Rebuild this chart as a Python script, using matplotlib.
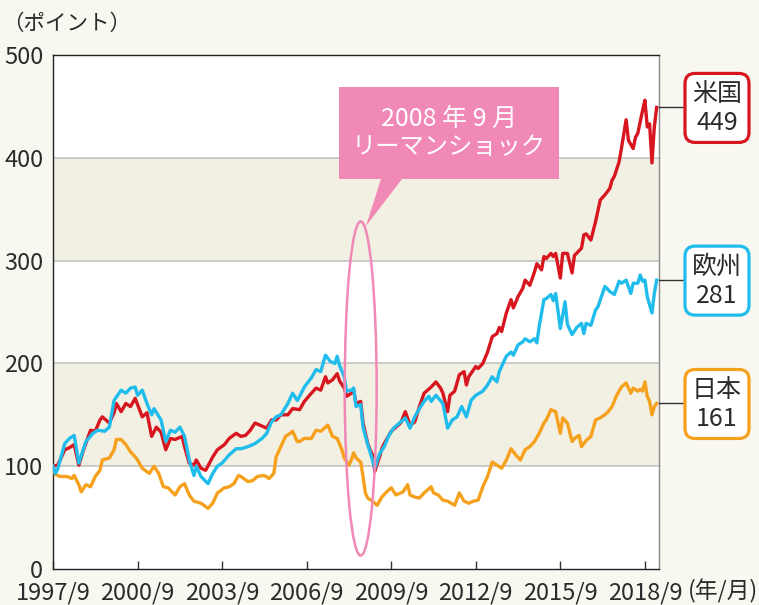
import matplotlib
matplotlib.use("Agg")
import matplotlib.pyplot as plt
from matplotlib.patches import Ellipse, FancyBboxPatch, Polygon
import numpy as np

plt.rcParams['font.family'] = ['Noto Sans CJK JP', 'DejaVu Sans']

# months counted from 1997/9 (index, 1997/9 = 100)
us_m = [0, 2, 5, 7, 9, 11, 13, 16, 18, 20, 21, 24, 26, 27, 29, 31, 33, 35, 36, 38,
        40, 42, 44, 46, 48, 50, 52, 55, 56, 58, 60, 61, 63, 65, 68, 70, 73, 75, 78, 80,
        82, 84, 86, 88, 91, 93, 95, 97, 100, 102, 105, 107, 110, 112, 114, 116, 117, 119, 121, 122,
        124, 125, 127, 128, 129, 131, 132, 134, 135, 136, 137, 139, 140, 141, 144, 146, 148, 150, 152, 154,
        156, 158, 161, 163, 165, 166, 168, 169, 171, 173, 175, 176, 177, 180, 181, 183, 185, 187, 189, 190,
        191, 193, 195, 196, 198, 200, 201, 203, 205, 206, 208, 209, 210, 212, 213, 214, 216, 217, 219, 221,
        222, 225, 226, 227, 229, 231, 233, 235, 237, 238, 239, 241, 242, 244, 245, 247, 248, 249, 251, 252,
        253, 254, 255, 256, 257]
us_v = [100, 101, 116, 118, 121, 101, 116, 135, 134, 145, 148, 142, 152, 161, 153, 161, 158, 166, 160, 148,
        152, 129, 138, 133, 116, 127, 126, 129, 119, 103, 101, 106, 98, 96, 109, 116, 121, 127, 132, 129,
        130, 135, 142, 140, 137, 145, 145, 150, 150, 156, 155, 163, 171, 176, 174, 187, 181, 184, 190, 183,
        176, 168, 171, 174, 161, 163, 142, 122, 116, 111, 95, 109, 117, 122, 134, 138, 142, 153, 140, 143,
        158, 171, 177, 182, 176, 171, 153, 169, 173, 189, 192, 179, 187, 197, 195, 200, 211, 226, 229, 235,
        231, 249, 262, 254, 265, 273, 281, 276, 289, 297, 291, 304, 302, 307, 304, 307, 283, 307, 307, 288,
        305, 312, 325, 326, 320, 338, 359, 364, 370, 378, 382, 396, 409, 437, 417, 409, 420, 424, 446, 456,
        430, 433, 395, 430, 449]

eu_m = [0, 1, 2, 5, 7, 9, 11, 14, 17, 19, 22, 24, 26, 29, 31, 33, 35, 36, 38, 40,
        42, 43, 46, 48, 50, 52, 54, 56, 58, 60, 61, 63, 66, 68, 70, 72, 75, 78, 80, 83,
        86, 89, 91, 93, 95, 97, 100, 102, 104, 105, 107, 110, 112, 114, 116, 118, 120, 121, 122, 124,
        125, 127, 128, 129, 131, 132, 134, 135, 137, 139, 141, 143, 145, 148, 150, 152, 154, 156, 158, 160,
        161, 163, 166, 168, 170, 172, 174, 176, 178, 180, 183, 185, 187, 189, 190, 193, 195, 196, 198, 200,
        201, 203, 205, 206, 207, 209, 210, 212, 213, 214, 216, 218, 219, 221, 223, 225, 226, 227, 229, 231,
        232, 235, 237, 239, 241, 242, 244, 246, 247, 249, 250, 251, 252, 253, 255, 256, 257]
eu_v = [100, 93, 97, 122, 127, 130, 103, 124, 132, 135, 134, 138, 164, 174, 171, 176, 177, 169, 174, 161,
        150, 156, 145, 124, 135, 133, 138, 129, 106, 91, 100, 90, 83, 93, 100, 103, 111, 117, 117, 119,
        122, 127, 132, 143, 148, 150, 161, 171, 164, 168, 177, 186, 194, 192, 208, 202, 200, 207, 198, 187,
        173, 174, 176, 158, 160, 138, 121, 114, 98, 112, 119, 130, 137, 143, 147, 137, 148, 156, 163, 168,
        163, 169, 161, 137, 145, 148, 158, 148, 164, 169, 173, 179, 187, 182, 192, 207, 211, 208, 218, 221,
        224, 221, 224, 220, 236, 262, 263, 267, 261, 268, 234, 260, 238, 228, 235, 239, 229, 239, 237, 252,
        255, 275, 270, 267, 280, 278, 281, 268, 278, 278, 286, 280, 281, 265, 249, 268, 281]

jp_m = [0, 1, 3, 6, 8, 9, 11, 12, 14, 16, 18, 20, 21, 24, 26, 27, 29, 31, 33, 35,
        36, 38, 41, 43, 45, 47, 49, 52, 54, 56, 58, 60, 63, 66, 68, 70, 73, 75, 77, 79,
        80, 83, 85, 87, 90, 92, 94, 95, 97, 99, 101, 102, 104, 105, 107, 110, 112, 114, 117, 119,
        121, 123, 124, 126, 127, 128, 129, 131, 132, 133, 134, 136, 138, 140, 142, 144, 146, 149, 151, 152,
        154, 156, 158, 161, 162, 164, 166, 168, 171, 173, 175, 177, 179, 181, 183, 185, 187, 189, 191, 193,
        195, 197, 199, 201, 203, 205, 207, 209, 210, 212, 214, 216, 217, 219, 221, 222, 224, 225, 227, 229,
        231, 233, 236, 238, 240, 242, 244, 246, 247, 249, 250, 251, 252, 253, 254, 255, 256, 257]
jp_v = [100, 92, 90, 90, 88, 91, 82, 75, 82, 80, 90, 96, 106, 108, 116, 126, 126, 121, 114, 109,
        106, 98, 93, 100, 93, 80, 79, 72, 80, 83, 72, 66, 64, 59, 64, 74, 79, 80, 83, 91,
        90, 85, 86, 90, 91, 88, 93, 109, 119, 129, 132, 134, 124, 124, 127, 127, 135, 134, 140, 129,
        127, 116, 108, 101, 106, 113, 108, 104, 90, 74, 69, 66, 62, 70, 75, 79, 72, 75, 82, 72,
        70, 69, 74, 80, 74, 72, 67, 66, 62, 74, 66, 64, 66, 67, 80, 90, 104, 101, 98, 106,
        117, 111, 106, 116, 119, 124, 132, 142, 145, 155, 153, 132, 147, 142, 124, 127, 130, 119, 125, 129,
        145, 147, 152, 158, 169, 177, 181, 171, 176, 173, 175, 173, 182, 168, 163, 150, 158, 161]

tick_months = [0, 36, 72, 108, 144, 180, 216, 252]
tick_labels = ["1997/9", "2000/9", "2003/9", "2006/9", "2009/9", "2012/9", "2015/9", "2018/9"]

label_names = ["米国", "欧州", "日本"]
label_values = [449, 281, 161]

RED = "#d7161f"
CYAN = "#20bdec"
ORANGE = "#f6a11e"
PINK = "#f089b6"
TXT = "#2b2b2b"

fig = plt.figure(figsize=(7.59, 6.05), dpi=100, facecolor="#f8f7f0")
ax = fig.add_axes([53 / 759, 1 - 569 / 605, 606 / 759, 514 / 605])
ax.set_facecolor("white")
ax.set_xlim(0, 258)
ax.set_ylim(0, 500)

for lo, hi in [(100, 200), (300, 400)]:
    ax.axhspan(lo, hi, color="#f2efe3", lw=0, zorder=0)
for yv in [100, 200, 300, 400]:
    ax.axhline(yv, color="#c3c3c3", lw=1.2, zorder=1)

ax.plot(jp_m, jp_v, color=ORANGE, lw=2.4, zorder=3, solid_joinstyle="round")
ax.plot(us_m, us_v, color=RED, lw=2.4, zorder=4, solid_joinstyle="round")
ax.plot(eu_m, eu_v, color=CYAN, lw=2.4, zorder=5, solid_joinstyle="round")

# ellipse marking the 2008 crash
ax.add_patch(Ellipse((131, 175.6), 13.6, 325, fill=False, ec=PINK, lw=1.8, zorder=6))

ax.set_yticks([0, 100, 200, 300, 400, 500])
ax.set_xticks(tick_months)
ax.set_xticklabels(tick_labels)
ax.tick_params(axis="y", length=0, pad=7, labelsize=17, labelcolor=TXT)
ax.tick_params(axis="x", direction="in", length=6, width=1, color="#333333",
               pad=9, labelsize=17, labelcolor=TXT)
for s in ["left", "bottom", "top"]:
    ax.spines[s].set_color("#222222")
    ax.spines[s].set_linewidth(1.0)
ax.spines["right"].set_color("#8a8a8a")
ax.spines["right"].set_linewidth(1.0)

# overlay in pixel coords for annotations
ov = fig.add_axes([0, 0, 1, 1], facecolor="none")
ov.set_xlim(0, 759)
ov.set_ylim(605, 0)
ov.axis("off")

ov.text(2, 24, "（ポイント）", fontsize=15.5, color=TXT, va="center", ha="left")
ov.text(758, 591, "(年/月)", fontsize=16.5, color=TXT, va="center", ha="right")

# callout box
ov.add_patch(Polygon([(339, 87), (559, 87), (559, 179), (402, 179), (366, 226), (381, 179), (339, 179)],
                     closed=True, fc=PINK, ec="none", zorder=10))
ov.text(449, 119, "2008 年 9 月", fontsize=18, color="white", ha="center", va="center", zorder=11)
ov.text(449, 147, "リーマンショック", fontsize=17.5, color="white", ha="center", va="center", zorder=11)

# right-hand labels tied to final values
fig.canvas.draw()
inv = ov.transData.inverted()
for name, val, col in zip(label_names, label_values, [RED, CYAN, ORANGE]):
    _, ypx = inv.transform(ax.transData.transform((258, val)))
    ov.plot([659, 683], [ypx, ypx], color="#333333", lw=1.0, zorder=9)
    ov.add_patch(FancyBboxPatch((685, ypx - 34), 64, 69, boxstyle="round,pad=0,rounding_size=10",
                                fc="white", ec=col, lw=2.3, zorder=10))
    ov.text(717, ypx - 13, name, fontsize=18, color=TXT, ha="center", va="center", zorder=11)
    ov.text(717, ypx + 16, str(val), fontsize=18, color=TXT, ha="center", va="center", zorder=11)

fig.savefig("out.png", dpi=100, facecolor=fig.get_facecolor())
